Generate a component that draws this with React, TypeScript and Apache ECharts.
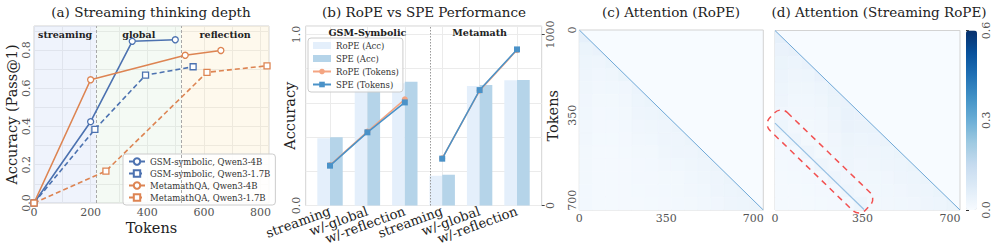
import React, { useEffect, useRef } from 'react';
import * as echarts from 'echarts';

const FONT = '"DejaVu Serif", serif';

// ---------- Panel (a): streaming thinking depth ----------
const gsm4B = [[0, 0], [200, 0.425], [347, 0.845], [499, 0.853]];
const gsm17B = [[0, 0], [215, 0.385], [394, 0.668], [562, 0.712]];
const meta4B = [[0, 0], [200, 0.644], [534, 0.772], [660, 0.797]];
const meta17B = [[0, 0], [254, 0.167], [611, 0.683], [823, 0.717]];
const phaseBounds = [0, 220, 520, 830];
const phaseNames = ['streaming', 'global', 'reflection'];
const aSeriesNames = ['GSM-symbolic, Qwen3-4B', 'GSM-symbolic, Qwen3-1.7B', 'MetamathQA, Qwen3-4B', 'MetamathQA, Qwen3-1.7B'];

// ---------- Panel (b): RoPE vs SPE ----------
const bCategories = ['streaming', 'w/-global', 'w/-reflection', 'streaming', 'w/-global', 'w/-reflection'];
const ropeAcc = [0.393, 0.681, 0.715, 0.174, 0.699, 0.732];
const speAcc = [0.399, 0.689, 0.724, 0.18, 0.705, 0.734];
const ropeTokensGsm = [236, 432, 621];
const speTokensGsm = [233, 428, 603];
const ropeTokensMeta = [276, 672, 909];
const speTokensMeta = [274, 675, 913];
const groupNames = ['GSM-Symbolic', 'Metamath'];

// ---------- Panels (c)/(d): attention maps, 14x14 blocks over 740 tokens, lower-triangle rows ----------
const SEQ_LEN = 740;
const heatTicks = [0, 350, 700];
const attnRope = [
  [0.05],
  [0.035, 0.04],
  [0.03, 0.028, 0.035],
  [0.028, 0.022, 0.025, 0.035],
  [0.025, 0.018, 0.02, 0.022, 0.032],
  [0.022, 0.015, 0.015, 0.018, 0.03, 0.035],
  [0.02, 0.013, 0.014, 0.016, 0.028, 0.03, 0.035],
  [0.018, 0.012, 0.012, 0.014, 0.022, 0.025, 0.028, 0.034],
  [0.017, 0.011, 0.011, 0.012, 0.018, 0.02, 0.026, 0.028, 0.033],
  [0.016, 0.01, 0.01, 0.011, 0.015, 0.016, 0.024, 0.026, 0.028, 0.033],
  [0.015, 0.01, 0.01, 0.01, 0.013, 0.014, 0.018, 0.02, 0.024, 0.028, 0.033],
  [0.015, 0.009, 0.009, 0.01, 0.012, 0.013, 0.015, 0.016, 0.02, 0.024, 0.028, 0.034],
  [0.014, 0.009, 0.009, 0.009, 0.011, 0.012, 0.014, 0.015, 0.017, 0.02, 0.026, 0.03, 0.034],
  [0.014, 0.009, 0.009, 0.009, 0.01, 0.011, 0.013, 0.014, 0.015, 0.017, 0.022, 0.027, 0.03, 0.035],
];
const attnStreaming = [
  [0.05],
  [0.04, 0.045],
  [0.035, 0.032, 0.04],
  [0.032, 0.028, 0.03, 0.04],
  [0.03, 0.024, 0.025, 0.03, 0.038],
  [0.026, 0.02, 0.02, 0.024, 0.035, 0.04],
  [0.022, 0.018, 0.018, 0.02, 0.03, 0.042, 0.04],
  [0.03, 0.018, 0.016, 0.018, 0.026, 0.04, 0.036, 0.038],
  [0.014, 0.026, 0.016, 0.016, 0.022, 0.034, 0.03, 0.032, 0.036],
  [0.012, 0.014, 0.026, 0.016, 0.02, 0.03, 0.026, 0.028, 0.03, 0.035],
  [0.011, 0.012, 0.013, 0.026, 0.018, 0.026, 0.022, 0.024, 0.026, 0.03, 0.035],
  [0.01, 0.011, 0.012, 0.013, 0.026, 0.022, 0.02, 0.02, 0.022, 0.026, 0.03, 0.035],
  [0.01, 0.01, 0.011, 0.012, 0.013, 0.028, 0.018, 0.018, 0.02, 0.022, 0.026, 0.03, 0.035],
  [0.01, 0.01, 0.01, 0.011, 0.012, 0.014, 0.03, 0.016, 0.018, 0.02, 0.022, 0.026, 0.03, 0.035],
];
const BLOCK = SEQ_LEN / attnRope.length;
const diagMain = [[0, 0], [740, 740]];
const diagStreaming = [[0, 382], [356, 738]];
const BLUES = ['#f7fbff', '#deebf7', '#c6dbef', '#9ecae1', '#6baed6', '#4292c6', '#2171b5', '#08519c', '#08306b'];

const toCells = (rows: number[][]) => {
  const out: number[][] = [];
  rows.forEach((row, r) => row.forEach((v, c) => out.push([c * BLOCK, r * BLOCK, v])));
  return out;
};

const renderCell = (params: any, api: any) => {
  const x0 = api.value(0);
  const y0 = api.value(1);
  const p0 = api.coord([x0, y0]);
  const p1 = api.coord([x0 + BLOCK, y0 + BLOCK]);
  const color = api.visual('color');
  const style = { fill: color, stroke: color, lineWidth: 0.5 };
  if (Math.abs(x0 - y0) < 1e-6) {
    return { type: 'polygon', shape: { points: [[p0[0], p0[1]], [p0[0], p1[1]], [p1[0], p1[1]]] }, style };
  }
  return { type: 'rect', shape: { x: p0[0], y: p0[1], width: p1[0] - p0[0], height: p1[1] - p0[1] }, style };
};

const ORANGE = '#dd8452';
const BLUE = '#4c72b0';
const GRID = '#ebebeb';
const FRAME = '#d3d3d3';
const TICK = '#555';

export default function App() {
  const ref = useRef<HTMLDivElement>(null);
  useEffect(() => {
    if (!ref.current) return;
    const chart = echarts.init(ref.current, undefined, { renderer: 'svg' });
    const labelStyle = { fontFamily: FONT, fontSize: 11, color: TICK };
    const nameStyle = { fontFamily: FONT, fontSize: 14.5, color: '#222' };
    const lineA = (name: string, data: number[][], color: string, dashed: boolean, symbol: string) => ({
      type: 'line', name, data, xAxisIndex: 0, yAxisIndex: 0, z: 5,
      symbol, symbolSize: 6, showSymbol: true,
      itemStyle: { color: '#fff', borderColor: color, borderWidth: 1.3 },
      lineStyle: { color, width: 1.6, type: dashed ? [5, 3] : 'solid' },
      color,
    });
    const tokenLine = (name: string, vals: number[], offset: number, color: string, symbol: string) => ({
      type: 'line', name, data: vals.map((v, i) => [i + offset, v]), xAxisIndex: 1, yAxisIndex: 2, z: 5,
      symbol, symbolSize: 6, itemStyle: { color }, lineStyle: { color, width: 1.5 }, color,
    });
    const heatLabel = (v: number) => (heatTicks.includes(Math.round(v)) ? String(Math.round(v)) : '');
    const titleText = (text: string, x: number) => ({
      type: 'text', x, y: 12,
      style: { text, fontFamily: FONT, fontSize: 13.5, fill: '#222', align: 'center', verticalAlign: 'middle' },
    });
    const baseGraphics: any[] = [
      titleText('(a) Streaming thinking depth', 151),
      titleText('(b) RoPE vs SPE Performance', 424),
      titleText('(c) Attention (RoPE)', 671),
      titleText('(d) Attention (Streaming RoPE)', 879),
      {
        type: 'rect', x: 820, y: 161.5, rotation: -44 * Math.PI / 180, z: 100,
        shape: { x: -66.5, y: -12.5, width: 133, height: 25, r: 9 },
        style: { fill: 'none', stroke: '#f25050', lineWidth: 1.5, lineDash: [6, 5] },
      },
    ];

    const option: any = {
      animation: false,
      backgroundColor: '#fff',
      textStyle: { fontFamily: FONT },
      grid: [
        { left: 34, top: 26, width: 235, height: 177, show: true, borderColor: FRAME, borderWidth: 1, backgroundColor: '#fff' },
        { left: 305.7, top: 26, width: 236, height: 179.5, show: true, borderColor: FRAME, borderWidth: 1, backgroundColor: '#fff' },
        { left: 579.3, top: 30, width: 184, height: 180, show: true, borderColor: FRAME, borderWidth: 1, backgroundColor: '#f7fbff' },
        { left: 775, top: 30.5, width: 185, height: 179.5, show: true, borderColor: FRAME, borderWidth: 1, backgroundColor: '#f7fbff' },
        { left: 966, top: 30.5, width: 11, height: 179.5, show: false },
      ],
      xAxis: [
        {
          gridIndex: 0, type: 'value', min: 0, max: 830, interval: 100,
          axisLine: { show: false }, axisTick: { show: false },
          axisLabel: { ...labelStyle, margin: 4, formatter: (v: number) => (v % 200 === 0 && v <= 800 ? String(v) : '') },
          splitLine: { show: true, lineStyle: { color: GRID, width: 1 } },
          name: 'Tokens', nameLocation: 'middle', nameGap: 17, nameTextStyle: nameStyle, nameMoveOverlap: false,
        },
        {
          gridIndex: 1, type: 'value', min: -0.65, max: 5.66,
          axisLine: { show: false },
          axisTick: { show: false, customValues: [0, 1, 2, 3, 4, 5] },
          axisLabel: { show: false, customValues: [0, 1, 2, 3, 4, 5] },
          splitLine: { show: true, lineStyle: { color: GRID, width: 1 } },
        },
        {
          gridIndex: 2, type: 'value', min: 0, max: SEQ_LEN, interval: 350,
          axisLine: { show: false }, axisTick: { show: false },
          axisLabel: { ...labelStyle, margin: 3, showMaxLabel: false, formatter: heatLabel }, splitLine: { show: false },
        },
        {
          gridIndex: 3, type: 'value', min: 0, max: SEQ_LEN, interval: 350,
          axisLine: { show: false }, axisTick: { show: false },
          axisLabel: { ...labelStyle, margin: 3, showMaxLabel: false, formatter: heatLabel }, splitLine: { show: false },
        },
        { gridIndex: 4, type: 'value', min: 0, max: 1, show: false },
      ],
      yAxis: [
        {
          gridIndex: 0, type: 'value', min: 0, max: 0.925, interval: 0.1,
          axisLine: { show: false }, axisTick: { show: false },
          axisLabel: {
            ...labelStyle, rotate: 90, margin: 2,
            formatter: (v: number) => { const k = Math.round(v * 10); return k % 2 === 0 && k <= 8 ? (k / 10).toFixed(1) : ''; },
          },
          splitLine: { show: true, lineStyle: { color: GRID, width: 1 } },
          name: 'Accuracy (Pass@1)', nameLocation: 'middle', nameRotate: 90, nameGap: 15, nameTextStyle: nameStyle, nameMoveOverlap: false,
        },
        {
          gridIndex: 1, type: 'value', min: 0, max: 1.05, interval: 0.2,
          axisLine: { show: false }, axisTick: { show: false },
          axisLabel: {
            ...labelStyle, rotate: 90, margin: 4,
            formatter: (v: number) => (Math.abs(v) < 1e-6 ? '0.0' : Math.abs(v - 1) < 1e-6 ? '1.0' : ''),
          },
          splitLine: { show: true, lineStyle: { color: GRID, width: 1 } },
          name: 'Accuracy', nameLocation: 'middle', nameRotate: 90, nameGap: 8, nameTextStyle: nameStyle, nameMoveOverlap: false,
        },
        {
          gridIndex: 1, type: 'value', position: 'right', min: 0, max: 1050, interval: 1000,
          axisLine: { show: false },
          axisTick: { show: true, length: 3, lineStyle: { color: '#444' } },
          axisLabel: { ...labelStyle, rotate: 90, margin: 3, showMaxLabel: false, formatter: (v: number) => (v === 0 || v === 1000 ? String(v) : '') },
          splitLine: { show: false },
          name: 'Tokens', nameLocation: 'middle', nameRotate: 90, nameGap: 4, nameTextStyle: nameStyle, nameMoveOverlap: false,
        },
        {
          gridIndex: 2, type: 'value', min: 0, max: SEQ_LEN, interval: 350, inverse: true,
          axisLine: { show: false }, axisTick: { show: false },
          axisLabel: { ...labelStyle, rotate: 90, margin: 1, showMaxLabel: false, formatter: heatLabel }, splitLine: { show: false },
        },
        {
          gridIndex: 3, type: 'value', min: 0, max: SEQ_LEN, interval: 350, inverse: true,
          axisLine: { show: false }, axisTick: { show: false },
          axisLabel: { show: false }, splitLine: { show: false },
        },
        {
          gridIndex: 4, type: 'value', position: 'right', min: 0, max: 0.6, interval: 0.3,
          axisLine: { show: false },
          axisTick: { show: true, length: 3, lineStyle: { color: '#333' } },
          axisLabel: { ...labelStyle, rotate: 90, margin: 4, formatter: (v: number) => v.toFixed(1) },
          splitLine: { show: false },
        },
      ],
      visualMap: {
        type: 'continuous', min: 0, max: 0.6, seriesIndex: [11, 13], dimension: 2,
        inRange: { color: BLUES }, calculable: false, show: true, orient: 'vertical',
        left: 966, top: 30.5, itemWidth: 11, itemHeight: 179.5, padding: 0, text: null, hoverLink: false,
      },
      legend: [
        {
          data: aSeriesNames, orient: 'vertical', left: 123, top: 154,
          itemWidth: 16, itemHeight: 8, itemGap: 3, padding: [3, 5],
          textStyle: { fontFamily: FONT, fontSize: 8.5, color: '#333' },
          backgroundColor: 'rgba(255,255,255,0.85)', borderColor: '#ccc', borderWidth: 1, borderRadius: 3,
          selectedMode: false,
        },
        {
          data: [
            { name: 'RoPE (Acc)', icon: 'rect' },
            { name: 'SPE (Acc)', icon: 'rect' },
            'RoPE (Tokens)', 'SPE (Tokens)',
          ],
          orient: 'vertical', left: 308, top: 38,
          itemWidth: 18, itemHeight: 7, itemGap: 4, padding: [3, 4],
          textStyle: { fontFamily: FONT, fontSize: 8.5, color: '#333' },
          backgroundColor: 'rgba(255,255,255,0.85)', borderColor: '#ccc', borderWidth: 1, borderRadius: 3,
          selectedMode: false,
        },
      ],
      series: [
        {
          type: 'line', name: 'phases', data: [], xAxisIndex: 0, yAxisIndex: 0, z: 1,
          markArea: {
            silent: true,
            label: { show: true, position: 'insideTop', distance: 3, fontFamily: FONT, fontWeight: 'bold', fontSize: 9.5, color: '#222' },
            data: phaseNames.map((n, i) => [
              { name: n, xAxis: phaseBounds[i], itemStyle: { color: ['rgba(190,208,245,0.25)', 'rgba(200,228,200,0.2)', 'rgba(252,228,175,0.22)'][i] } },
              { xAxis: phaseBounds[i + 1] },
            ]),
          },
          markLine: {
            silent: true, symbol: 'none', label: { show: false },
            lineStyle: { color: '#a8a8a8', type: [3, 2], width: 1 },
            data: [{ xAxis: phaseBounds[1] }, { xAxis: phaseBounds[2] }],
          },
        },
        lineA(aSeriesNames[0], gsm4B, BLUE, false, 'circle'),
        lineA(aSeriesNames[1], gsm17B, BLUE, true, 'rect'),
        lineA(aSeriesNames[2], meta4B, ORANGE, false, 'circle'),
        lineA(aSeriesNames[3], meta17B, ORANGE, true, 'rect'),
        {
          type: 'bar', name: 'RoPE (Acc)', xAxisIndex: 1, yAxisIndex: 1,
          data: ropeAcc.map((v, i) => [i, v]), barWidth: 12.7, barGap: '0%',
          itemStyle: { color: '#e4effb' }, color: '#e4effb',
        },
        {
          type: 'bar', name: 'SPE (Acc)', xAxisIndex: 1, yAxisIndex: 1,
          data: speAcc.map((v, i) => [i, v]), barWidth: 12.7, barGap: '0%',
          itemStyle: { color: '#b5d4e9' }, color: '#b5d4e9',
          markArea: {
            silent: true,
            itemStyle: { color: 'rgba(0,0,0,0)' },
            label: { show: true, position: 'insideTop', distance: 1, fontFamily: FONT, fontWeight: 'bold', fontSize: 9.5, color: '#222' },
            data: [
              [{ name: groupNames[0], xAxis: -0.5 }, { xAxis: 2.5 }],
              [{ name: groupNames[1], xAxis: 2.5 }, { xAxis: 5.5 }],
            ],
          },
          markLine: {
            silent: true, symbol: 'none', label: { show: false },
            lineStyle: { color: '#999', type: [1.5, 1.5], width: 1 },
            data: [{ xAxis: 2.5 }],
          },
        },
        tokenLine('RoPE (Tokens)', ropeTokensGsm, 0, '#f4a582', 'circle'),
        tokenLine('RoPE (Tokens)', ropeTokensMeta, 3, '#f4a582', 'circle'),
        tokenLine('SPE (Tokens)', speTokensGsm, 0, '#4a92c8', 'rect'),
        tokenLine('SPE (Tokens)', speTokensMeta, 3, '#4a92c8', 'rect'),
        {
          type: 'custom', name: 'attn-rope', xAxisIndex: 2, yAxisIndex: 3, renderItem: renderCell,
          data: toCells(attnRope), encode: { x: 0, y: 1 }, z: 1,
        },
        {
          type: 'line', name: 'diag-rope', xAxisIndex: 2, yAxisIndex: 3, data: diagMain,
          symbol: 'none', lineStyle: { color: '#6fa8d7', width: 1 }, z: 3,
        },
        {
          type: 'custom', name: 'attn-streaming', xAxisIndex: 3, yAxisIndex: 4, renderItem: renderCell,
          data: toCells(attnStreaming), encode: { x: 0, y: 1 }, z: 1,
        },
        {
          type: 'line', name: 'diag-streaming-main', xAxisIndex: 3, yAxisIndex: 4, data: diagMain,
          symbol: 'none', lineStyle: { color: '#6fa8d7', width: 1 }, z: 3,
        },
        {
          type: 'line', name: 'diag-streaming-window', xAxisIndex: 3, yAxisIndex: 4, data: diagStreaming,
          symbol: 'none', lineStyle: { color: '#97c0e3', width: 1.2 }, z: 3,
        },
      ],
      graphic: baseGraphics,
    };
    chart.setOption(option);

    // Category labels of panel (b), placed through the axis scale
    const baseY = chart.convertToPixel({ yAxisIndex: 1 } as any, 0) as number;
    const catLabels = bCategories.map((c, i) => ({
      type: 'text',
      x: chart.convertToPixel({ xAxisIndex: 1 } as any, i) as number,
      y: baseY + 5,
      rotation: 20 * Math.PI / 180,
      style: { text: c, fontFamily: FONT, fontSize: 13.2, fill: '#222', align: 'right', verticalAlign: 'middle' },
    }));
    chart.setOption({ graphic: [...baseGraphics, ...catLabels] });
    return () => chart.dispose();
  }, []);
  return <div ref={ref} style={{ position: 'absolute', left: 0, top: 0, width: 997, height: 248, background: '#fff' }} />;
}
